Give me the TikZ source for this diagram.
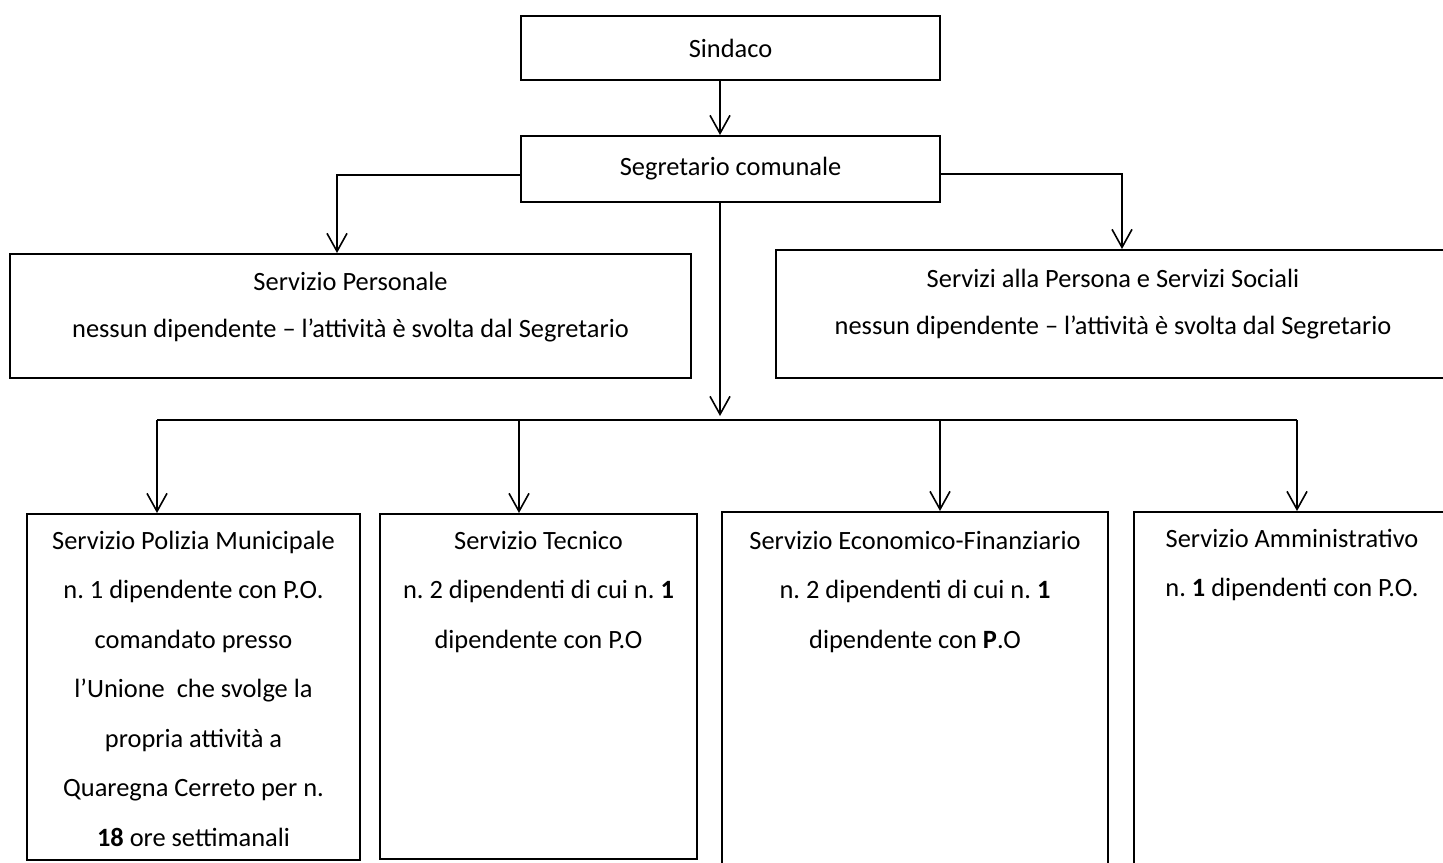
\documentclass[tikz,border=0pt]{standalone}
\usepackage{fontspec}
\setmainfont{Carlito}
\usetikzlibrary{arrows.meta}
\frenchspacing

\tikzset{
 box/.style={draw,line width=1pt,inner sep=0pt},
 hightxt/.style={align=center,inner sep=0pt,font=\fontsize{13.2}{23.5}\selectfont},
 lowtxt/.style={align=center,inner sep=0pt,font=\fontsize{13.2}{24.75}\selectfont},
 link/.style={line width=0.8pt},
 arr/.style={link,-{Straight Barb[length=9pt,width=10pt]}}
}

\begin{document}
\begin{tikzpicture}[x=0.5pt,y=-0.5pt]
 \useasboundingbox (0,0) rectangle (1443,862);
 % vertice
 \node[box,hightxt,minimum width=209.5pt,minimum height=32pt] (sind) at (730.5,48) {Sindaco};
 \node[box,hightxt,minimum width=209.5pt,minimum height=33pt] (segr) at (730.5,169) {Segretario comunale};
 % servizi svolti dal segretario (base = ultima riga)
 \node[box,minimum width=340.5pt,minimum height=62pt] (pers) at (350.5,316) {};
 \node[hightxt,anchor=base] (pers-t) at (350.5,337) {Servizio Personale\\nessun dipendente – l’attività è svolta dal Segretario};
 \node[box,minimum width=337pt,minimum height=64pt] (soc) at (1113,314) {};
 \node[hightxt,anchor=base] (soc-t) at (1113,334) {Servizi alla Persona e Servizi Sociali\\nessun dipendente – l’attività è svolta dal Segretario};
 % servizi con dipendenti
 \node[box,minimum width=166.5pt,minimum height=173pt] (pol) at (193.5,687) {};
 \node[lowtxt,anchor=base] (pol-t) at (193.5,846) {Servizio Polizia Municipale\\n. 1 dipendente con P.O.\\comandato presso\\l’Unione~ che svolge la\\propria attività a\\Quaregna Cerreto per n.\\\textbf{18} ore settimanali};
 \node[box,minimum width=158.5pt,minimum height=172.5pt] (tec) at (538.5,686.5) {};
 \node[lowtxt,anchor=base] (tec-t) at (538.5,648) {Servizio Tecnico\\n. 2 dipendenti di cui n. \textbf{1}\\dipendente con P.O};
 \node[box,minimum width=193pt,minimum height=184pt] (eco) at (915,696) {};
 \node[lowtxt,anchor=base] (eco-t) at (915,648) {Servizio Economico-Finanziario\\n. 2 dipendenti di cui n. \textbf{1}\\dipendente con \textbf{P}.O};
 \node[box,minimum width=158pt,minimum height=184pt] (amm) at (1292,696) {};
 \node[lowtxt,anchor=base] (amm-t) at (1292,596.5) {Servizio Amministrativo\\n. \textbf{1} dipendenti con P.O.};
 % collegamenti
 \coordinate (bus) at (720,420);
 \coordinate (b1) at (157,420);
 \coordinate (b2) at (519,420);
 \coordinate (b3) at (940,420);
 \coordinate (b4) at (1297,420);
 \draw[arr] ([xshift=-5.25pt]sind.south) -- ([xshift=-5.25pt]segr.north);
 \draw[arr] ([yshift=-3pt]segr.west) -| ([xshift=-6.75pt]pers.north);
 \draw[arr] ([yshift=-2.5pt]segr.east) -| ([xshift=4.5pt]soc.north);
 \draw[arr] (bus |- segr.south) -- ([yshift=2pt]bus);
 \draw[link] (b1) -- (b4);
 \draw[arr] (b1) -- (b1 |- pol.north);
 \draw[arr] (b2) -- (b2 |- tec.north);
 \draw[arr] (b3) -- (b3 |- eco.north);
 \draw[arr] (b4) -- (b4 |- amm.north);
\end{tikzpicture}
\end{document}
